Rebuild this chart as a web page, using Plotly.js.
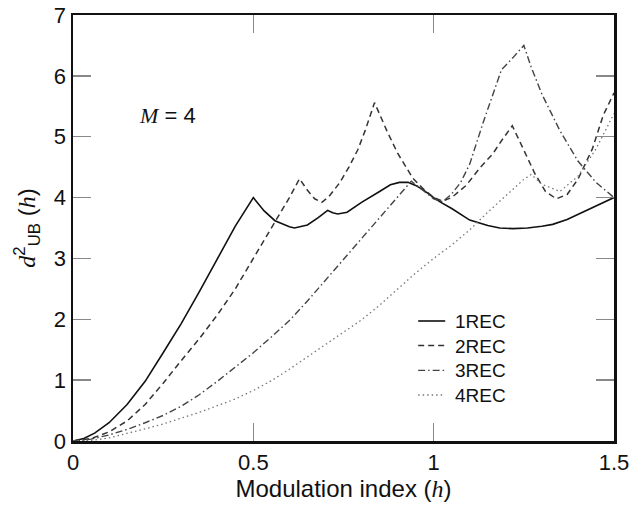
<!DOCTYPE html>
<html>
<head>
<meta charset="utf-8">
<script src="https://cdn.plot.ly/plotly-3.0.1.min.js"></script>
<style>html,body{margin:0;padding:0;background:#fff;}#chart{width:630px;height:506px;}</style>
</head>
<body>
<div id="chart"></div>
<script>
// 1REC
const h1 = [0,0.03,0.06,0.1,0.15,0.2,0.25,0.3,0.35,0.4,0.45,0.5,0.515,0.53,0.56,0.6,0.614,0.65,0.68,0.706,0.72,0.734,0.76,0.8,0.85,0.88,0.905,0.929,0.95,0.97,1.0,1.02,1.05,1.1,1.15,1.183,1.22,1.26,1.3,1.33,1.37,1.42,1.46,1.5];
const d1 = [0,0.04,0.13,0.3,0.6,0.98,1.45,1.93,2.45,3.0,3.53,4.0,3.88,3.78,3.62,3.52,3.50,3.55,3.67,3.79,3.75,3.73,3.76,3.92,4.10,4.21,4.25,4.25,4.2,4.13,4.0,3.92,3.82,3.63,3.54,3.50,3.49,3.5,3.53,3.56,3.64,3.78,3.89,4.0];
// 2REC
const h2 = [0,0.05,0.1,0.15,0.2,0.25,0.3,0.35,0.4,0.45,0.5,0.55,0.6,0.628,0.65,0.67,0.69,0.71,0.739,0.765,0.79,0.81,0.836,0.87,0.9,0.942,0.97,1.0,1.025,1.05,1.09,1.13,1.164,1.19,1.218,1.25,1.28,1.31,1.34,1.37,1.4,1.44,1.47,1.5];
const d2 = [0,0.04,0.15,0.33,0.6,0.95,1.32,1.68,2.07,2.5,3.0,3.5,4.0,4.31,4.12,3.98,3.92,4.02,4.24,4.5,4.79,5.1,5.56,5.1,4.73,4.32,4.15,4.0,3.94,4.0,4.2,4.5,4.72,4.95,5.18,4.78,4.4,4.1,3.98,4.05,4.3,4.8,5.35,5.72];
// 3REC
const h3 = [0,0.05,0.1,0.15,0.2,0.25,0.3,0.35,0.4,0.45,0.5,0.55,0.6,0.65,0.7,0.75,0.8,0.85,0.9,0.938,0.97,1.0,1.025,1.05,1.075,1.1,1.137,1.15,1.188,1.22,1.25,1.27,1.3,1.35,1.4,1.45,1.5];
const d3 = [0,0.03,0.1,0.19,0.3,0.42,0.57,0.76,0.98,1.21,1.45,1.71,1.98,2.3,2.64,2.98,3.32,3.66,4.01,4.27,4.12,3.98,3.93,4.06,4.25,4.55,5.23,5.45,6.1,6.3,6.5,6.15,5.7,5.1,4.6,4.25,4.0];
// 4REC
const h4 = [0,0.05,0.1,0.15,0.2,0.25,0.3,0.35,0.4,0.45,0.5,0.55,0.6,0.65,0.7,0.75,0.8,0.85,0.9,0.95,1.0,1.05,1.1,1.15,1.2,1.25,1.27,1.3,1.35,1.4,1.45,1.5];
const d4 = [0,0.01,0.05,0.12,0.2,0.28,0.37,0.47,0.58,0.69,0.83,0.99,1.18,1.38,1.58,1.78,1.99,2.23,2.5,2.76,3.0,3.22,3.47,3.76,4.03,4.3,4.38,4.22,4.1,4.35,4.8,5.38];

const names = ["1REC","2REC","3REC","4REC"];
const xTicks = [0,0.5,1,1.5];
const xTickText = ["0","0.5","1","1.5"];
const yTicks = [0,1,2,3,4,5,6,7];

const styles = [
  {color:"#111", width:1.6, dash:"solid"},
  {color:"#333", width:1.5, dash:"6px,4px"},
  {color:"#444", width:1.4, dash:"7px,3px,1.5px,3px"},
  {color:"#777", width:1.3, dash:"1.5px,3px"}
];
const xs = [h1,h2,h3,h4], ys = [d1,d2,d3,d4];

const traces = names.map((n,i)=>({
  x: xs[i], y: ys[i], name: n, type:"scatter", mode:"lines",
  line:{color:styles[i].color, width:styles[i].width, dash:styles[i].dash},
  showlegend:false, hoverinfo:"skip"
}));

const FONT = "Liberation Sans, Arial, sans-serif";

// manual legend (paper coords): one multi-line text block + line samples
const legRows = [0.2817,0.224,0.1657,0.108];
const shapes = [], annotations = [];
names.forEach((n,i)=>{
  shapes.push({type:"line", xref:"paper", yref:"paper", x0:0.638, x1:0.688, y0:legRows[i], y1:legRows[i],
    line:{color:styles[i].color, width:styles[i].width, dash:styles[i].dash}});
});
annotations.push({xref:"paper", yref:"paper", x:0.702, y:0.1948, xanchor:"left", yanchor:"middle", align:"left",
  text:names.join("<br>"), showarrow:false, font:{family:FONT, size:19, color:"#111"}});
annotations.push({xref:"paper", yref:"paper", x:0.118, y:0.763, xanchor:"left", yanchor:"middle",
  text:'<span style="font-family:Liberation Serif"><i>M</i></span> = 4', showarrow:false,
  font:{family:FONT, size:22, color:"#111"}});

const layout = {
  width:630, height:506,
  margin:{l:73, r:16, t:15, b:65, pad:0},
  paper_bgcolor:"#fff", plot_bgcolor:"#fff",
  font:{family:FONT, size:22, color:"#111"},
  xaxis:{
    range:[0,1.5], tickmode:"array", tickvals:xTicks, ticktext:xTickText,
    ticks:"inside", ticklen:18, tickwidth:1.5, tickcolor:"#888",
    showline:true, linewidth:2.5, linecolor:"#111", mirror:"ticks",
    showgrid:false, zeroline:false,
    tickfont:{family:FONT, size:22, color:"#111"},
    title:{text:'Modulation index (<span style="font-family:Liberation Serif"><i>h</i></span>)', font:{family:FONT, size:24, color:"#111"}, standoff:6}
  },
  yaxis:{
    range:[0,7], tickmode:"array", tickvals:yTicks,
    ticks:"inside", ticklen:18, tickwidth:1.5, tickcolor:"#888",
    showline:true, linewidth:2.5, linecolor:"#111", mirror:"ticks",
    showgrid:false, zeroline:false,
    tickfont:{family:FONT, size:22, color:"#111"},
    title:{text:'<span style="font-family:Liberation Serif"><i>d</i></span><sup>2</sup><sub>UB</sub>\u00a0(<span style="font-family:Liberation Serif"><i>h</i></span>)', font:{family:FONT, size:24, color:"#111"}, standoff:12}
  },
  shapes:shapes, annotations:annotations, showlegend:false
};

Plotly.newPlot("chart", traces, layout, {staticPlot:true, displayModeBar:false});
</script>
</body>
</html>
